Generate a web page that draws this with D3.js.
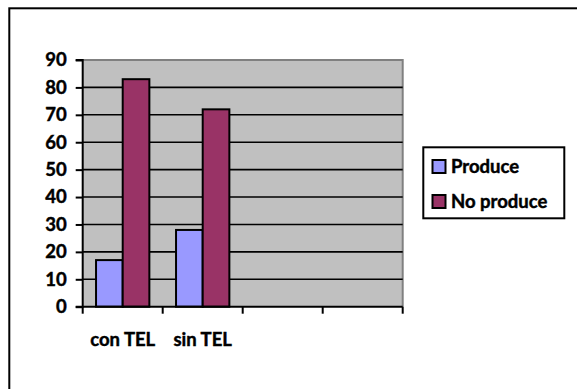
<!DOCTYPE html>
<html><head><meta charset="utf-8">
<script src="https://cdn.jsdelivr.net/npm/d3@7"></script>
<style>html,body{margin:0;padding:0;background:#fff;overflow:hidden}svg{display:block}</style>
</head><body>
<svg id="c" width="577" height="389"></svg>
<script>
const categories = ["con TEL", "sin TEL", "", ""];
const seriesNames = ["Produce", "No produce"];
const produce = [17, 28, null, null];
const noProduce = [83, 72, null, null];
const yTicks = [0, 10, 20, 30, 40, 50, 60, 70, 80, 90];
const colors = ["#9999FF", "#993366"];

const svg = d3.select("#c");
const font = "Lato, 'Open Sans', sans-serif";
const FW = "bold";
const FS = 18.5;
const L = 82.7, R = 402.7, T = 60, B = 306.7;

function styleText(sel) {
  sel.attr("font-family", font).attr("font-weight", FW).attr("font-size", FS)
    .attr("fill", "#000").attr("stroke", "#000").attr("stroke-width", 0.45);
}

// outer frame
svg.append("rect").attr("x", 9.3).attr("y", 8.3).attr("width", 700).attr("height", 500)
  .attr("fill", "none").attr("stroke", "#000").attr("stroke-width", 2);

const x = d3.scaleBand().domain(d3.range(categories.length)).range([L, R]).paddingInner(0).paddingOuter(0);
const inner = d3.scaleBand().domain(seriesNames).range([0, x.bandwidth()]).paddingInner(0).paddingOuter(0.5);
const y = d3.scaleLinear().domain([0, 90]).range([B, T]);

// plot area
svg.append("rect").attr("x", L).attr("y", T).attr("width", R - L).attr("height", B - T)
  .attr("fill", "#C0C0C0");
svg.append("path").attr("d", `M${L},${T}H${R}V${B}`).attr("fill", "none")
  .attr("stroke", "#808080").attr("stroke-width", 2);

// gridlines
svg.append("g").selectAll("line").data(yTicks.filter(t => t > 0 && t < 90)).join("line")
  .attr("x1", L).attr("x2", R).attr("y1", d => y(d)).attr("y2", d => y(d))
  .attr("stroke", "#000").attr("stroke-width", 1.6);

// bars
const series = [produce, noProduce];
series.forEach((vals, si) => {
  svg.append("g").selectAll("rect").data(vals.map((v, i) => ({v, i})).filter(d => d.v != null)).join("rect")
    .attr("x", d => x(d.i) + inner(seriesNames[si]))
    .attr("width", inner.bandwidth())
    .attr("y", d => y(d.v))
    .attr("height", d => y(0) - y(d.v))
    .attr("fill", colors[si]).attr("stroke", "#000").attr("stroke-width", 2);
});

// y axis
const yAxis = d3.axisLeft(y).tickValues(yTicks).tickSize(7).tickPadding(9);
const gy = svg.append("g").attr("transform", `translate(${L},0)`).call(yAxis);
gy.select(".domain").attr("stroke", "#000").attr("stroke-width", 2).attr("d", `M-7,${T}H0V${B}H-7`);
gy.selectAll(".tick line").attr("stroke", "#000").attr("stroke-width", 2);
gy.selectAll(".tick text").call(styleText);

// x axis ticks (between categories)
const xEdges = d3.range(categories.length + 1).map(i => i < categories.length ? x(i) : x(categories.length - 1) + x.bandwidth());
svg.append("line").attr("x1", L).attr("x2", R).attr("y1", B).attr("y2", B)
  .attr("stroke", "#000").attr("stroke-width", 2);
svg.append("g").selectAll("line").data(xEdges).join("line")
  .attr("x1", d => d).attr("x2", d => d).attr("y1", B).attr("y2", B + 7)
  .attr("stroke", "#000").attr("stroke-width", 2);
svg.append("g").selectAll("text").data(categories).join("text")
  .attr("x", (d, i) => x(i) + x.bandwidth() / 2).attr("y", 346)
  .attr("text-anchor", "middle").call(styleText).text(d => d);

// legend
const lg = svg.append("g");
lg.append("rect").attr("x", 423.3).attr("y", 147.3).attr("width", 141).attr("height", 71)
  .attr("fill", "#fff").attr("stroke", "#000").attr("stroke-width", 2);
seriesNames.forEach((n, i) => {
  const cy = 166.5 + i * 35;
  lg.append("rect").attr("x", 432.5).attr("y", cy - 6.5).attr("width", 13).attr("height", 13)
    .attr("fill", colors[i]).attr("stroke", "#000").attr("stroke-width", 2);
  lg.append("text").attr("x", 451).attr("y", cy + 6.5).call(styleText).text(n);
});
</script>
</body></html>
